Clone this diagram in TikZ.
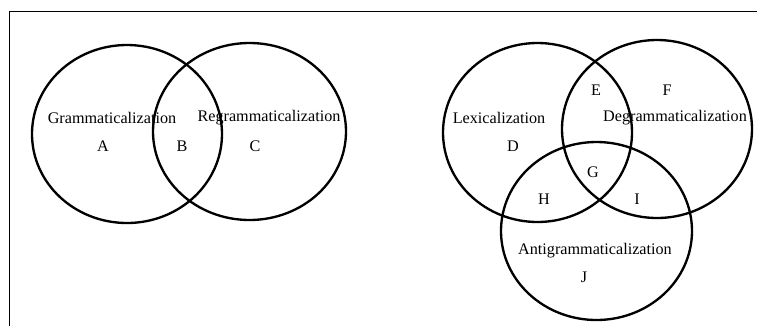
\documentclass[tikz,border=0pt]{standalone}
\usepackage{fontspec}
\setmainfont{Liberation Serif}
\tikzset{
  venn/.style={line width=0.07cm},
  framing/.style={line width=0.03cm},
  setlabel/.style={inner sep=0pt, font=\fontsize{13.8}{16}\selectfont},
}
\begin{document}
\begin{tikzpicture}[x=0.03cm, y=-0.03cm]
  \useasboundingbox (0,0) rectangle (757,326);
  % Drawing frame (left and top edge)
  \draw [framing] (9,326) -- (9,11) -- (757,11);%

  % Drawing circle Grammaticalization
  \draw [venn] (127,134) ellipse (95 and 89);%
  % Drawing circle Regrammaticalization
  \draw [venn] (249.5,131.5) ellipse (96.5 and 88.5);%

  % Drawing circle Lexicalization
  \draw [venn] (537.5,132.5) ellipse (94.5 and 89.5);%
  % Drawing circle Degrammaticalization
  \draw [venn] (657,129) ellipse (95 and 89);%
  % Drawing circle Antigrammaticalization
  \draw [venn] (596.5,231) ellipse (95.5 and 89);%

  % Marking labels of left diagram
  \node [setlabel] (gram) at (112,118) {Grammaticalization};%
  \node [setlabel] (regram) at (269,118) {Regrammaticalization};%
  \node [setlabel] (A) at (103,146) {A};%
  \node [setlabel] (B) at (182,146) {B};%
  \node [setlabel] (C) at (255,146) {C};%

  % Marking labels of right diagram
  \node [setlabel] (lex) at (499,118) {Lexicalization};%
  \node [setlabel] (degram) at (675,118) {Degrammaticalization};%
  \node [setlabel] (antigram) at (595,251) {Antigrammaticalization};%
  \node [setlabel] (D) at (513,146) {D};%
  \node [setlabel] (E) at (596,90) {E};%
  \node [setlabel] (F) at (667,90) {F};%
  \node [setlabel] (G) at (593,172) {G};%
  \node [setlabel] (H) at (544,199) {H};%
  \node [setlabel] (I) at (637,199) {I};%
  \node [setlabel] (J) at (584,277) {J};%
\end{tikzpicture}
\end{document}
